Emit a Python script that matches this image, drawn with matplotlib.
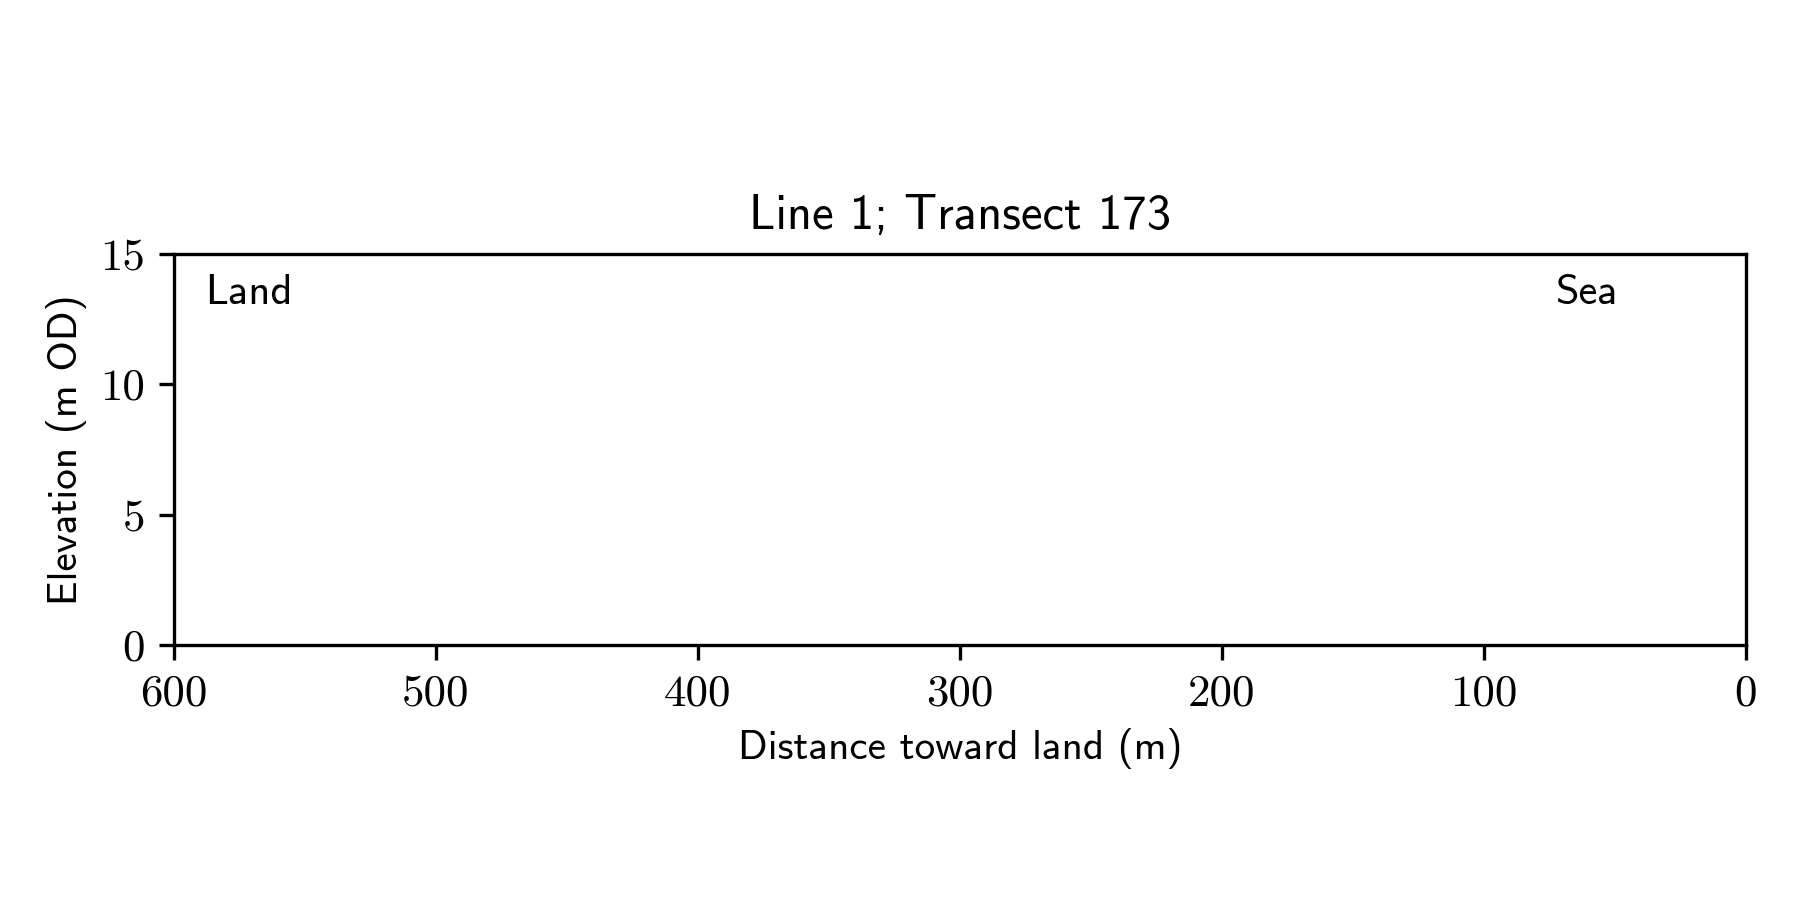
import matplotlib
matplotlib.use("Agg")
import matplotlib.pyplot as plt

title = "Line 1; Transect 173"
xlabel = "Distance toward land (m)"
ylabel = "Elevation (m OD)"
xticks = [600, 500, 400, 300, 200, 100, 0]
yticks = [0, 5, 10, 15]
xlim = (600, 0)
ylim = (0, 15)

sans = "cmss10"
serif = "cmr10"

fig = plt.figure(figsize=(6, 3), dpi=300)
ax = fig.add_axes([0.0967, 0.2833, 0.8731, 0.4345])
ax.set_xlim(*xlim)
ax.set_ylim(*ylim)
ax.set_xticks(xticks)
ax.set_yticks(yticks)
ax.set_xticklabels([str(v) for v in xticks], fontname=serif, fontsize=10.8)
ax.set_yticklabels([str(v) for v in yticks], fontname=serif, fontsize=10.8)
ax.set_title(title, fontname=sans, fontsize=11.7)
ax.set_xlabel(xlabel, fontname=sans, fontsize=9.9, labelpad=3.2)
ax.set_ylabel(ylabel, fontname=sans, fontsize=9.9, labelpad=3.2)
ax.text(0.02, 0.95, "Land", transform=ax.transAxes, ha="left", va="top", fontname=sans, fontsize=10.2)
ax.text(0.899, 0.95, "Sea", transform=ax.transAxes, ha="center", va="top", fontname=sans, fontsize=10.2)

fig.savefig("out.png", dpi=300)
